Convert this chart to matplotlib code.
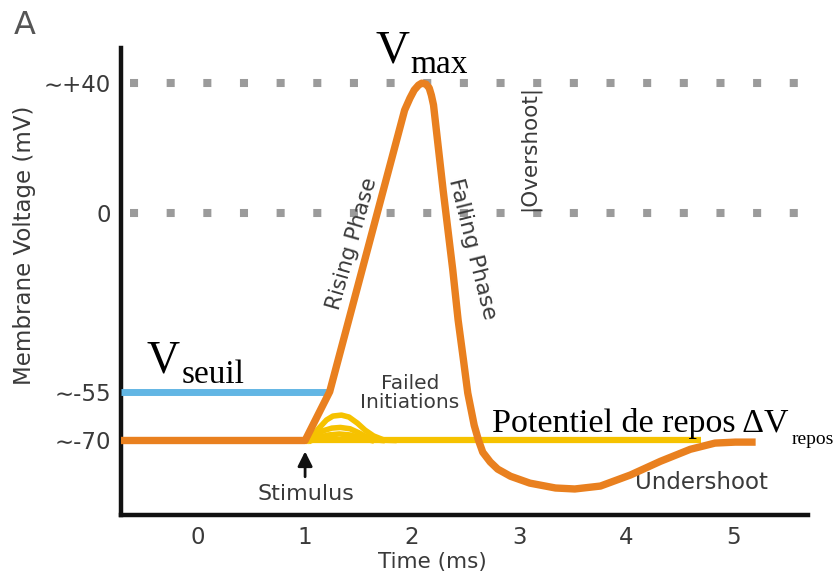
import matplotlib
matplotlib.use("Agg")
import matplotlib.pyplot as plt

plt.rcParams['font.family'] = ['DejaVu Sans']

# ---- data (time in ms, voltage in mV) ----
ap_t = [-0.72, 1.00, 1.23, 1.93, 1.98, 2.02, 2.06, 2.09, 2.13, 2.16, 2.18, 2.20,
        2.29, 2.38, 2.43, 2.48, 2.52, 2.58, 2.62, 2.66, 2.73, 2.80, 2.92, 3.10,
        3.34, 3.52, 3.76, 4.04, 4.32, 4.60, 4.83, 5.02, 5.21]
ap_v = [-70, -70, -55, 31.5, 35.2, 37.7, 39.2, 39.8, 39.5, 38.3, 36.1, 33.1,
        6.9, -17.6, -33, -45.3, -55.4, -65.3, -69.9, -73.6, -76.6, -78.8, -81.0, -83.1,
        -84.6, -84.9, -84.0, -80.6, -76.4, -72.7, -70.8, -70.5, -70.5]

fail_t = [[1.02, 1.07, 1.13, 1.20, 1.26, 1.34, 1.41, 1.49, 1.56, 1.64, 1.74, 1.83],
          [1.04, 1.10, 1.17, 1.25, 1.33, 1.42, 1.50, 1.58, 1.66, 1.72],
          [1.06, 1.13, 1.22, 1.32, 1.42, 1.52, 1.62]]
fail_v = [[-70, -68.6, -66.2, -63.7, -62.5, -62.2, -62.8, -64.7, -66.8, -68.6, -69.9, -70],
          [-70, -68.5, -67.0, -66.2, -66.0, -66.4, -67.6, -69.0, -69.8, -70],
          [-70, -69.0, -68.3, -68.0, -68.3, -69.2, -70]]
rest_t = [1.0, 4.70]
rest_v = [-70, -70]

seuil_t = [-0.72, 1.23]
seuil_v = [-55, -55]

ref_levels = [40, 0]

xticks = [0, 1, 2, 3, 4, 5]
yticks = [40, 0, -55, -70]
ytick_labels = ['∼+40', '0', '∼-55', '∼-70']

ORANGE = '#E9801F'
YELLOW = '#F6C200'
BLUE = '#62B6E4'
GRAY = '#9B9B9B'
TXT = '#3a3a3a'

fig = plt.figure(figsize=(8.38, 5.73), dpi=100)
ax = fig.add_axes([0.1444, 0.1012, 0.8199, 0.8150])
ax.set_xlim(-0.72, 5.70)
ax.set_ylim(-92.9, 50.6)

# dotted reference lines
for lv in ref_levels:
    ax.plot([-0.64, 5.82], [lv, lv], color=GRAY, lw=5.8,
            linestyle=(0, (1, 3.55)), solid_capstyle='butt',
            dash_capstyle='butt', clip_on=False, zorder=1)

# resting / failed initiations
ax.plot(rest_t, rest_v, color=YELLOW, lw=4.5, solid_capstyle='butt', zorder=2)
for ft, fv in zip(fail_t, fail_v):
    ax.plot(ft, fv, color=YELLOW, lw=4.0, solid_joinstyle='round', zorder=2)

# threshold
ax.plot(seuil_t, seuil_v, color=BLUE, lw=5.0, solid_capstyle='butt', zorder=3)

# action potential
ax.plot(ap_t, ap_v, color=ORANGE, lw=5.3, solid_joinstyle='round',
        solid_capstyle='butt', zorder=4)

# axes styling
for s in ['top', 'right']:
    ax.spines[s].set_visible(False)
for s in ['left', 'bottom']:
    ax.spines[s].set_linewidth(3.2)
    ax.spines[s].set_color('#111111')
ax.set_xticks(xticks)
ax.set_xticklabels([str(x) for x in xticks])
ax.set_yticks(yticks)
ax.set_yticklabels(ytick_labels)
ax.tick_params(axis='both', length=0, labelsize=16.5, labelcolor=TXT)
ax.tick_params(axis='x', pad=8)
ax.tick_params(axis='y', pad=7)
ax.set_xlabel('Time (ms)', fontsize=15.5, color=TXT)
ax.xaxis.label.set_va('center')
ax.xaxis.set_label_coords(0.453, -0.1)
ax.set_ylabel('Membrane Voltage (mV)', fontsize=16.5, color=TXT)
ax.yaxis.label.set_va('center')
ax.yaxis.set_label_coords(-0.140, 0.578)

# annotations
fig.text(0.017, 0.94, 'A', fontsize=23, color='#555555', ha='left', va='baseline')

ax.text(1.44, -9.4, 'Rising Phase', rotation=74, fontsize=15.5, color=TXT,
        ha='center', va='center', rotation_mode='anchor')
ax.text(2.565, -11.2, 'Falling Phase', rotation=-76, fontsize=16, color=TXT,
        ha='center', va='center', rotation_mode='anchor')
ax.text(3.10, 19.8, '|Overshoot|', rotation=90, fontsize=15.5, color=TXT,
        ha='center', va='center')
ax.text(1.98, -55.4, 'Failed\nInitiations', fontsize=14.5, color=TXT,
        ha='center', va='center', linespacing=0.95)
ax.text(1.01, -86.5, 'Stimulus', fontsize=16, color=TXT, ha='center', va='center')
ax.annotate('', xy=(1.0, -72.5), xytext=(1.0, -82.0),
            arrowprops=dict(arrowstyle='-|>', color='#111111', lw=2.0,
                            mutation_scale=22))
ax.text(4.70, -82.8, 'Undershoot', fontsize=16.5, color=TXT, ha='center', va='center')

serif = ['Liberation Serif', 'DejaVu Serif']
ax.text(1.66, 46.3, 'V', fontsize=34, family=serif, color='black',
        ha='left', va='baseline')
ax.text(1.98, 42.9, 'max', fontsize=24, family=serif, color='black',
        ha='left', va='baseline')
ax.text(-0.48, -49.0, 'V', fontsize=33, family=serif, color='black',
        ha='left', va='baseline')
ax.text(-0.15, -52.3, 'seuil', fontsize=24, family=serif, color='black',
        ha='left', va='baseline')
ax.text(2.75, -67.4, 'Potentiel de repos ΔV', fontsize=24.5, family=serif,
        color='black', ha='left', va='baseline')
ax.text(5.55, -71.2, 'repos', fontsize=14, family=serif, color='black',
        ha='left', va='baseline', clip_on=False)

fig.savefig('out.png', dpi=100)
